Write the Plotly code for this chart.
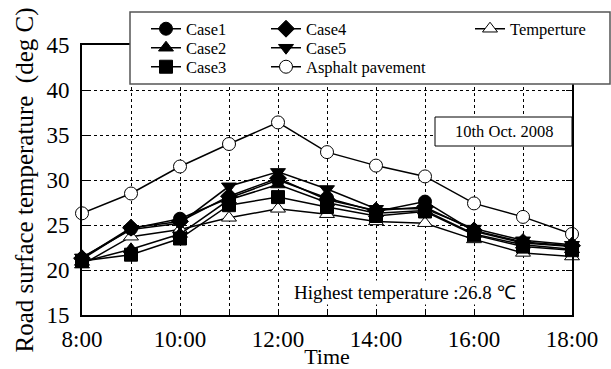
import plotly.graph_objects as go

hours = [8, 9, 10, 11, 12, 13, 14, 15, 16, 17, 18]
tick_labels = ["8:00", "", "10:00", "", "12:00", "", "14:00", "", "16:00", "", "18:00"]

case1 = [21.2, 24.6, 25.7, 28.0, 30.0, 28.0, 26.5, 27.6, 24.3, 23.0, 22.6]
case2 = [20.9, 22.3, 24.0, 27.8, 29.5, 27.5, 26.3, 26.6, 24.0, 22.8, 22.3]
case3 = [21.0, 21.7, 23.5, 27.2, 28.1, 27.0, 26.0, 26.5, 23.9, 22.6, 22.2]
case4 = [21.3, 24.7, 25.4, 28.2, 30.2, 27.8, 26.6, 27.0, 24.4, 23.1, 22.7]
case5 = [21.4, 24.5, 25.2, 29.3, 30.9, 29.0, 26.8, 26.8, 24.6, 23.3, 22.8]
asphalt = [26.3, 28.5, 31.5, 34.0, 36.4, 33.1, 31.6, 30.4, 27.4, 25.9, 24.0]
temperture = [20.6, 23.7, 24.5, 25.8, 26.8, 26.2, 25.4, 25.2, 23.4, 21.9, 21.5]

FONT = "Liberation Serif"

# plot area in pixels (for placing the overlay boxes)
L, R, T, B = 82, 572, 45, 315
W, H = R - L, B - T


def px(xp):
    return (xp - L) / W


def py(yp):
    return (B - yp) / H


fig = go.Figure()

series = [
    ("Asphalt pavement", asphalt, "circle", "white", "legend6"),
    ("Temperture", temperture, "triangle-up", "white", "legend7"),
    ("Case3", case3, "square", "black", "legend3"),
    ("Case2", case2, "triangle-up", "black", "legend2"),
    ("Case1", case1, "circle", "black", "legend"),
    ("Case4", case4, "diamond", "black", "legend4"),
    ("Case5", case5, "triangle-down", "black", "legend5"),
]
for name, ys, symbol, fill, leg in series:
    fig.add_trace(go.Scatter(
        x=hours, y=ys, name=name, mode="lines+markers",
        line=dict(color="black", width=1.5),
        marker=dict(symbol=symbol, size=13, color=fill,
                    line=dict(color="black", width=1)),
        legend=leg, cliponaxis=False, showlegend=True,
    ))

leg_common = dict(bgcolor="rgba(0,0,0,0)", borderwidth=0,
                  font=dict(family=FONT, size=16.5, color="black"),
                  yanchor="middle", xanchor="left", itemwidth=30,
                  visible=True)

col_x = [px(146), px(266), px(470)]
row_y = [py(29), py(48), py(67)]
legend_pos = {
    "legend": (col_x[0], row_y[0]),
    "legend2": (col_x[0], row_y[1]),
    "legend3": (col_x[0], row_y[2]),
    "legend4": (col_x[1], row_y[0]),
    "legend5": (col_x[1], row_y[1]),
    "legend6": (col_x[1], row_y[2]),
    "legend7": (col_x[2], row_y[0]),
}
legends = {k: dict(x=v[0], y=v[1], **leg_common) for k, v in legend_pos.items()}

fig.update_layout(
    width=611, height=369, showlegend=True,
    margin=dict(l=L, r=611 - R, t=T, b=369 - B, autoexpand=False),
    paper_bgcolor="white", plot_bgcolor="white",
    font=dict(family=FONT, color="black"),
    xaxis=dict(range=[8, 18], tickvals=hours, ticktext=tick_labels,
               ticks="inside", ticklen=6, tickwidth=1, tickcolor="black",
               showline=True, linewidth=2, linecolor="black", mirror=True,
               showgrid=True, gridcolor="black", griddash="dot", gridwidth=1,
               tickfont=dict(family=FONT, size=23), ticklabelstandoff=2,
               title=dict(text="Time", font=dict(family=FONT, size=22), standoff=0),
               zeroline=False),
    yaxis=dict(range=[15, 45], dtick=5,
               ticks="inside", ticklen=6, tickwidth=1, tickcolor="black",
               showline=True, linewidth=2, linecolor="black", mirror="ticks",
               showgrid=True, gridcolor="black", griddash="dot", gridwidth=1,
               tickfont=dict(family=FONT, size=23), ticklabelstandoff=6,
               title=dict(text="Road surface temperature  (deg C)",
                          font=dict(family=FONT, size=25), standoff=6),
               zeroline=False),
    **legends,
)

# legend frame
fig.add_shape(type="rect", xref="paper", yref="paper",
              x0=px(130), x1=px(610), y0=py(84), y1=py(12),
              line=dict(color="#555555", width=1.5), fillcolor="white", layer="above")

# date box
fig.add_shape(type="rect", xref="paper", yref="paper",
              x0=px(435), x1=1.0, y0=py(146), y1=py(117),
              line=dict(color="black", width=1), fillcolor="white", layer="above")
fig.add_annotation(xref="paper", yref="paper", x=px(504), y=py(131.5),
                   xanchor="center", yanchor="middle",
                   text="10th Oct. 2008", showarrow=False,
                   font=dict(family=FONT, size=16.5, color="black"))

fig.add_annotation(xref="paper", yref="paper", x=px(405), y=py(292),
                   xanchor="center", yanchor="middle",
                   text="Highest temperature :26.8 ℃", showarrow=False,
                   bgcolor="white",
                   font=dict(family=FONT, size=19, color="black"))

fig.write_html("out.html", config={"displayModeBar": False},
               post_script="document.body.style.margin='0';document.body.style.overflow='hidden';")
